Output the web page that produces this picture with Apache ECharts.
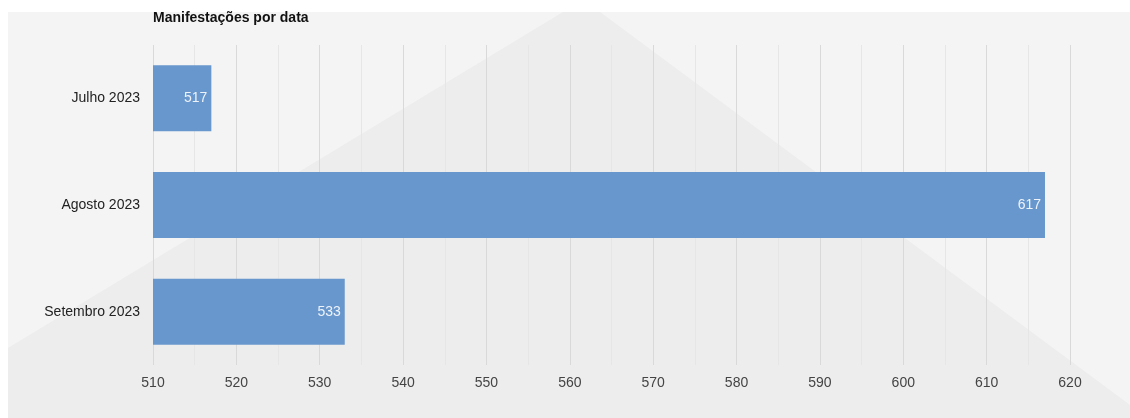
<!DOCTYPE html>
<html>
<head>
<meta charset="utf-8">
<script src="https://cdn.jsdelivr.net/npm/echarts@6/dist/echarts.min.js"></script>
<style>
html,body{margin:0;padding:0;background:#fff;}
#c{width:1130px;height:418px;}
</style>
</head>
<body>
<div id="c"></div>
<script>
const categories = ["Julho 2023", "Agosto 2023", "Setembro 2023"];
const values = [517, 617, 533];
const titleText = "Manifestações por data";

const chart = echarts.init(document.getElementById('c'), null, {renderer: 'canvas'});
chart.setOption({
  animation: false,
  backgroundColor: '#ffffff',
  graphic: [
    {type: 'rect', z: -10, silent: true, shape: {x: 8, y: 12, width: 1122, height: 406}, style: {fill: '#f4f4f4'}},
    {type: 'polygon', z: -9, silent: true, shape: {points: [[563,12],[600,12],[1130,405],[1130,418],[8,418],[8,348]]}, style: {fill: '#ededed'}}
  ],
  title: {
    text: titleText,
    left: 148, top: 6,
    textStyle: {fontFamily: 'Liberation Sans, Arial, sans-serif', fontSize: 14, fontWeight: 'bold', color: '#111'}
  },
  grid: {left: 153, right: 60, top: 45, bottom: 53, containLabel: false},
  xAxis: {
    type: 'value', min: 510, max: 620, interval: 10,
    axisLine: {show: false}, axisTick: {show: false},
    axisLabel: {margin: 11, fontFamily: 'Liberation Sans, Arial, sans-serif', fontSize: 14, color: '#444'},
    splitLine: {show: true, lineStyle: {color: '#d9d9d9', width: 1}},
    minorTick: {show: false, splitNumber: 2},
    minorSplitLine: {show: true, lineStyle: {color: '#e6e6e6', width: 1}}
  },
  yAxis: {
    type: 'category', data: categories, inverse: true,
    axisLine: {show: false}, axisTick: {show: false},
    axisLabel: {margin: 13, fontFamily: 'Liberation Sans, Arial, sans-serif', fontSize: 14, color: '#222'}
  },
  series: [{
    type: 'bar', data: values, barWidth: 66,
    itemStyle: {color: '#6897cd'},
    label: {show: true, position: 'insideRight', distance: 4, color: '#eef3f9', fontFamily: 'Liberation Sans, Arial, sans-serif', fontSize: 14}
  }]
});
</script>
</body>
</html>
